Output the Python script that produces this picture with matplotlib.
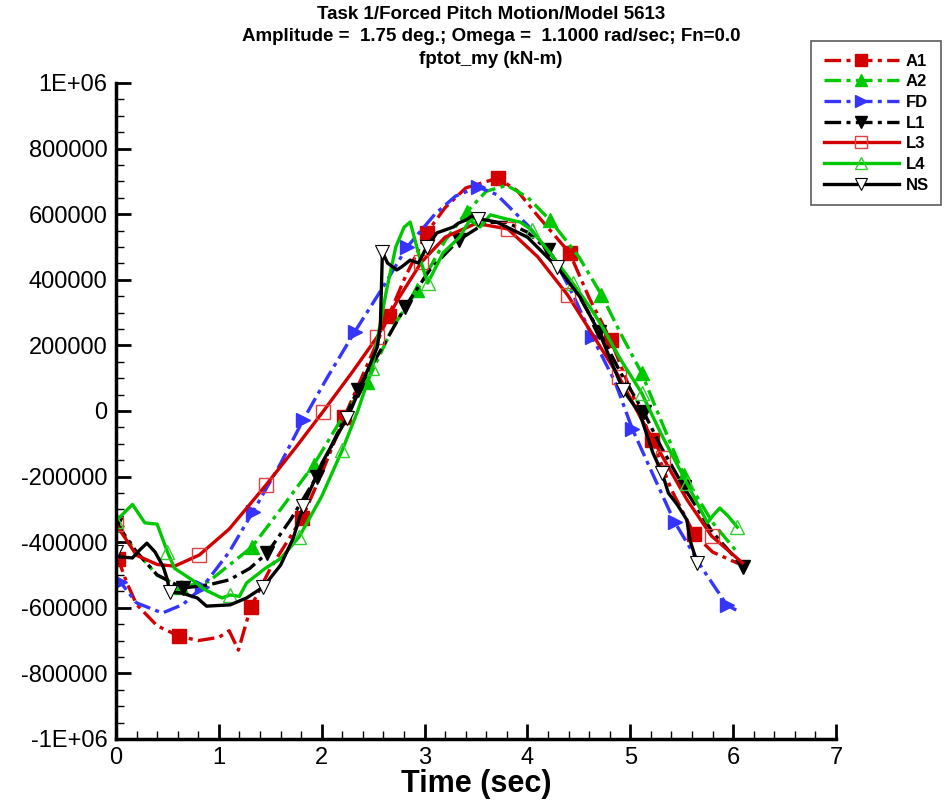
import numpy as np
import matplotlib.pyplot as plt
from matplotlib.ticker import MultipleLocator, FuncFormatter

plt.rcParams["font.family"] = ["Liberation Sans", "DejaVu Sans"]

# time (sec) and fptot_my (kN-m)
a1_t = [0.0, 0.02, 0.1, 0.2, 0.4, 0.61, 0.8, 1.0, 1.1, 1.19, 1.31, 1.5, 1.81, 2.0, 2.22, 2.4, 2.65,
        2.8, 3.02, 3.2, 3.4, 3.71, 3.9, 4.1, 4.41, 4.6, 4.81, 5.0, 5.21, 5.4, 5.62, 5.8, 6.05]
a1_v = [-445e3, -450e3, -520e3, -590e3, -655e3, -686e3, -700e3, -690e3, -670e3, -729e3, -598e3,
        -480e3, -326e3, -190e3, -18e3, 110e3, 290e3, 400e3, 543e3, 620e3, 680e3, 710e3, 672e3,
        595e3, 482e3, 345e3, 216e3, 65e3, -88e3, -240e3, -375e3, -430e3, -465e3]
a1_marks = [0.02, 0.61, 1.31, 1.81, 2.22, 2.65, 3.02, 3.71, 4.41, 4.81, 5.21, 5.62]

a2_t = [0.0, 0.2, 0.4, 0.63, 0.9, 1.1, 1.32, 1.6, 1.92, 2.2, 2.44, 2.7, 2.93, 3.2, 3.41, 3.6,
        3.8, 4.0, 4.22, 4.5, 4.72, 4.9, 5.11, 5.3, 5.52, 5.8, 6.05]
a2_v = [-348e3, -430e3, -500e3, -537e3, -520e3, -470e3, -415e3, -300e3, -165e3, -20e3, 88e3,
        260e3, 369e3, 520e3, 607e3, 670e3, 688e3, 652e3, 582e3, 470e3, 354e3, 240e3, 116e3,
        -30e3, -195e3, -340e3, -435e3]
a2_marks = [0.0, 0.63, 1.32, 1.92, 2.44, 2.93, 3.41, 4.22, 4.72, 5.11, 5.52]

fd_t = [0.0, 0.04, 0.2, 0.45, 0.65, 0.84, 1.1, 1.33, 1.6, 1.82, 2.05, 2.32, 2.6, 2.83, 3.1,
        3.3, 3.52, 3.7, 4.0, 4.25, 4.45, 4.63, 4.85, 5.02, 5.2, 5.43, 5.7, 5.94, 6.03]
fd_v = [-505e3, -521e3, -585e3, -616e3, -590e3, -537e3, -430e3, -308e3, -160e3, -27e3, 100e3,
        241e3, 380e3, 500e3, 600e3, 655e3, 683e3, 660e3, 567e3, 470e3, 350e3, 226e3, 90e3,
        -55e3, -180e3, -338e3, -480e3, -592e3, -607e3]
fd_marks = [0.04, 0.84, 1.33, 1.82, 2.32, 2.83, 3.52, 4.63, 5.02, 5.43, 5.94]

l1_t = [0.0, 0.2, 0.4, 0.65, 0.9, 1.1, 1.3, 1.47, 1.7, 1.95, 2.15, 2.35, 2.6, 2.81, 3.05, 3.33,
        3.6, 3.8, 4.0, 4.2, 4.45, 4.7, 4.9, 5.13, 5.3, 5.52, 5.8, 6.1]
l1_v = [-340e3, -430e3, -500e3, -540e3, -530e3, -515e3, -480e3, -433e3, -330e3, -201e3, -70e3,
        64e3, 200e3, 317e3, 430e3, 521e3, 575e3, 575e3, 545e3, 491e3, 380e3, 241e3, 120e3,
        -3e3, -110e3, -232e3, -370e3, -476e3]
l1_marks = [0.0, 0.65, 1.47, 1.95, 2.35, 2.81, 3.33, 4.2, 4.7, 5.13, 5.52, 6.1]

l3_t = [0.0, 0.2, 0.4, 0.57, 0.81, 1.1, 1.46, 1.75, 2.01, 2.3, 2.54, 2.75, 2.97, 3.2, 3.5,
        3.81, 4.1, 4.39, 4.65, 4.89, 5.1, 5.32, 5.55, 5.79, 6.09]
l3_v = [-345e3, -440e3, -468e3, -473e3, -439e3, -360e3, -225e3, -110e3, -3e3, 120e3, 226e3,
        345e3, 454e3, 530e3, 572e3, 555e3, 470e3, 354e3, 225e3, 104e3, -20e3, -143e3, -270e3,
        -381e3, -463e3]
l3_marks = [0.0, 0.81, 1.46, 2.01, 2.54, 2.97, 3.81, 4.39, 4.89, 5.32, 5.79]

l4_t = [0.0, 0.08, 0.16, 0.28, 0.4, 0.5, 0.57, 0.74, 0.87, 1.03, 1.11, 1.2, 1.27, 1.45, 1.6,
        1.78, 2.0, 2.2, 2.35, 2.49, 2.63, 2.72, 2.8, 2.86, 2.95, 3.03, 3.18, 3.34, 3.44, 3.54,
        3.64, 3.8, 3.93, 4.04, 4.25, 4.44, 4.6, 4.73, 4.9, 5.11, 5.3, 5.55, 5.75, 5.8, 5.87,
        5.95, 6.04]
l4_v = [-335e3, -310e3, -285e3, -341e3, -345e3, -430e3, -480e3, -515e3, -546e3, -570e3, -561e3,
        -565e3, -524e3, -480e3, -450e3, -384e3, -260e3, -119e3, 0, 131e3, 369e3, 500e3, 560e3,
        576e3, 470e3, 390e3, 482e3, 530e3, 582e3, 561e3, 598e3, 585e3, 576e3, 552e3, 470e3,
        390e3, 320e3, 256e3, 160e3, 55e3, -70e3, -220e3, -341e3, -320e3, -296e3, -320e3, -354e3]
l4_marks = [0.0, 0.5, 1.11, 1.78, 2.2, 2.49, 3.03, 4.04, 4.44, 5.11, 5.55, 6.04]

ns_t = [0.0, 0.04, 0.16, 0.23, 0.3, 0.38, 0.46, 0.5, 0.52, 0.64, 0.79, 0.88, 1.11, 1.27, 1.43,
        1.6, 1.72, 1.82, 2.0, 2.18, 2.25, 2.4, 2.54, 2.57, 2.59, 2.64, 2.73, 2.78, 2.86, 2.94,
        3.02, 3.12, 3.2, 3.28, 3.33, 3.4, 3.46, 3.52, 3.6, 3.7, 4.0, 4.29, 4.51, 4.7, 4.93,
        5.09, 5.22, 5.31, 5.37, 5.46, 5.55, 5.58, 5.65]
ns_v = [-430e3, -445e3, -448e3, -424e3, -403e3, -430e3, -476e3, -515e3, -552e3, -555e3, -570e3,
        -595e3, -591e3, -570e3, -537e3, -470e3, -390e3, -290e3, -160e3, -58e3, -21e3, 90e3,
        195e3, 260e3, 485e3, 451e3, 430e3, 440e3, 460e3, 451e3, 500e3, 543e3, 552e3, 561e3,
        573e3, 582e3, 595e3, 585e3, 582e3, 576e3, 530e3, 439e3, 348e3, 238e3, 64e3, -6e3,
        -128e3, -189e3, -250e3, -287e3, -332e3, -393e3, -463e3]
ns_marks = [0.0, 0.52, 1.43, 1.82, 2.25, 2.59, 3.02, 3.52, 4.29, 4.93, 5.31, 5.65]

red, green, blue = "#d20000", "#00c800", "#3535ff"
dashdot = (0, (5, 1.6, 1.2, 1.6))

series = [
    ("A1", a1_t, a1_v, a1_marks, dict(color=red, ls=dashdot, marker="s", mfc=red, mec=red)),
    ("A2", a2_t, a2_v, a2_marks, dict(color=green, ls=dashdot, marker="^", mfc=green, mec=green)),
    ("FD", fd_t, fd_v, fd_marks, dict(color=blue, ls=dashdot, marker=">", mfc=blue, mec=blue)),
    ("L1", l1_t, l1_v, l1_marks, dict(color="black", ls=dashdot, marker="v", mfc="black", mec="black")),
    ("L3", l3_t, l3_v, l3_marks, dict(color=red, ls="-", marker="s", mfc="none", mec="#e04040", mew=1)),
    ("L4", l4_t, l4_v, l4_marks, dict(color=green, ls="-", marker="^", mfc="none", mec="#30d030", mew=1)),
    ("NS", ns_t, ns_v, ns_marks, dict(color="black", ls="-", marker="v", mfc="white", mec="black", mew=0.8)),
]

fig = plt.figure(figsize=(9.44, 8.05), dpi=100)
ax = fig.add_axes([0.1229, 0.082, 0.7627, 0.8149])

for name, t, v, marks, style in series:
    idx = [int(np.argmin(np.abs(np.array(t) - m))) for m in marks]
    ax.plot(t, v, lw=2.4, ms=10, markevery=idx, label=name, **style)

ax.set_xlim(0, 7)
ax.set_ylim(-1e6, 1e6)
ax.xaxis.set_major_locator(MultipleLocator(1))
ax.xaxis.set_minor_locator(MultipleLocator(0.2))
ax.yaxis.set_major_locator(MultipleLocator(2e5))
ax.yaxis.set_minor_locator(MultipleLocator(5e4))


def yfmt(val, pos):
    if abs(abs(val) - 1e6) < 1:
        return "-1E+06" if val < 0 else "1E+06"
    return "%d" % round(val)


ax.yaxis.set_major_formatter(FuncFormatter(yfmt))
ax.tick_params(which="both", direction="in", width=2, labelsize=17)
ax.tick_params(which="major", length=11, pad=6)
ax.tick_params(which="minor", length=6, width=1)
for side in ("top", "right"):
    ax.spines[side].set_visible(False)
for side in ("left", "bottom"):
    ax.spines[side].set_linewidth(2.5)

ax.set_xlabel("Time (sec)", fontsize=22, fontweight="bold", labelpad=0)
fig.text(0.52, 0.993,
         "Task 1/Forced Pitch Motion/Model 5613\n"
         "Amplitude =  1.75 deg.; Omega =  1.1000 rad/sec; Fn=0.0\n"
         "fptot_my (kN-m)",
         ha="center", va="top", fontsize=13.5, fontweight="bold", linespacing=1.42)

leg = fig.legend(loc="upper right", bbox_to_anchor=(0.997, 0.949), frameon=True,
                 fancybox=False, edgecolor="#333333", handlelength=4.5, handletextpad=0.4,
                 borderpad=0.75, borderaxespad=0, labelspacing=0.34, markerscale=0.85,
                 prop=dict(weight="bold", size=12))
leg.get_frame().set_linewidth(1.2)

fig.savefig("out.png", dpi=100)
